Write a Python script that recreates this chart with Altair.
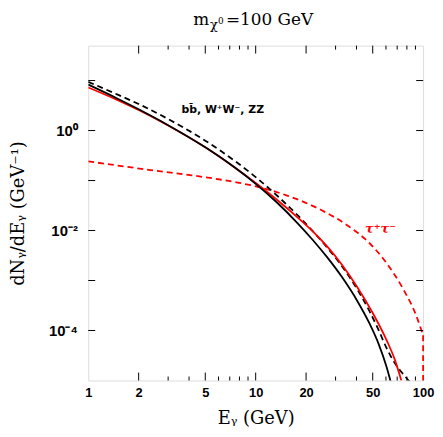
import altair as alt
import pandas as pd

W, H = 338, 338

# ---- data ----
E_bb = [1, 1.5, 2, 3, 5, 7.5, 10, 13.5, 17.7, 22, 26.7, 33, 40.2, 48, 54, 60.4, 64.7]
N_bb = [8.3, 4.33, 2.66, 1.28, 0.461, 0.1816, 0.0859, 0.0355, 0.01429, 6.4e-3, 2.93e-3,
        1.13e-3, 4.04e-4, 1.35e-4, 5.6e-5, 1.9e-5, 8.3e-6]

E_dash = [1, 1.5, 2, 3, 5, 7.5, 10, 13.5, 17.7, 22, 26.7, 33, 40.2, 48, 54, 60.4, 67.3, 77.2, 83]
N_dash = [9.4, 5.22, 3.39, 1.70, 0.628, 0.247, 0.117, 0.0491, 0.0206, 9.6e-3, 4.6e-3, 1.86e-3,
          6.9e-4, 2.38e-4, 1.05e-4, 4.5e-5, 2.3e-5, 1.26e-5, 9.5e-6]

E_red = [1, 1.5, 2, 3, 5, 7.5, 10, 13.5, 17.7, 22, 26.7, 33, 40.2, 50, 60.4, 67.5, 74.1]
N_red = [7.27, 4.05, 2.57, 1.26, 0.462, 0.182, 0.0891, 0.0403, 0.0186, 9.5e-3, 4.8e-3, 2.0e-3,
         7.6e-4, 2.24e-4, 6.5e-5, 2.7e-5, 1.0e-5]

E_tau = [1, 1.5, 2.35, 3.7, 5.5, 7.8, 11.3, 15.4, 24.3, 35, 48.1, 60.4, 75.9, 90.9, 97.3, 100]
N_tau = [0.242, 0.1995, 0.162, 0.1334, 0.111, 0.0912, 0.0692, 0.0501, 0.0263, 0.0129, 5.5e-3,
         2.24e-3, 6.8e-4, 2.0e-4, 1.05e-4, 8e-5]
tau_end = [100, 8e-5, 1e-5]   # vertical drop at E = m_chi

x_domain = [1, 100]
y_domain = [1e-5, 50]
x_label_values = [1, 2, 5, 10, 20, 50, 100]
x_major_ticks = [2, 5, 10, 20, 50]
x_minor_ticks = [3, 4, 6, 7, 8, 9, 30, 40, 60, 70, 80, 90]
y_ticks = [1e-4, 1e-3, 1e-2, 1e-1, 1, 10]
y_label_values = [1, 1e-2, 1e-4]
y_label_text = ["10⁰", "10⁻²", "10⁻⁴"]

label_bb = ["bb̄, W⁺W⁻, ZZ", 3.6, 2.6]
label_tau = ["τ⁺τ⁻", 55.7, 0.0107]

# ---- scales / axes ----
xscale = alt.Scale(type="log", domain=x_domain, nice=False)
yscale = alt.Scale(type="log", domain=y_domain, nice=False)

y_expr = " : ".join(
    f"abs(log(datum.value)/LN10 - ({i})) < 0.1 ? '{t}'"
    for i, t in zip([0, -2, -4], y_label_text)
) + " : ''"

xaxis = alt.Axis(values=x_label_values, format="d", ticks=False, domain=False, grid=False,
                 labelFont="Liberation Sans", labelFontWeight="bold", labelFontSize=13,
                 labelColor="black", labelPadding=6, labelFlush=False,
                 title="Eᵧ (GeV)", titleFont="DejaVu Serif", titleFontWeight="normal",
                 titleFontSize=18, titleColor="black", titleX=W / 2, titleY=38,
                 titleBaseline="middle", titleAlign="center")
yaxis = alt.Axis(values=y_label_values, labelExpr=y_expr, ticks=False, domain=False, grid=False,
                 labelFont="Liberation Sans", labelFontWeight="bold", labelFontSize=15,
                 labelColor="black", labelPadding=11,
                 title="dNᵧ/dEᵧ (GeV⁻¹)", titleFont="DejaVu Serif", titleFontWeight="normal",
                 titleFontSize=18, titleColor="black", titleAngle=-90, titleX=-70, titleY=H / 2,
                 titleBaseline="middle", titleAlign="center")


def line(E, N, color, dash=None):
    df = pd.DataFrame({"E": E, "N": N})
    kw = dict(color=color, strokeWidth=1.8, interpolate="monotone", clip=True)
    if dash:
        kw["strokeDash"] = dash
    return alt.Chart(df).mark_line(**kw).encode(
        x=alt.X("E:Q", scale=xscale, axis=xaxis),
        y=alt.Y("N:Q", scale=yscale, axis=yaxis),
    )


l_tau = line(E_tau, N_tau, "#ff0000", [6, 4])
l_tau_end = alt.Chart(pd.DataFrame({"E": [tau_end[0]], "N": [tau_end[1]], "N2": [tau_end[2]]})).mark_rule(
    color="#ff0000", strokeWidth=1.8, strokeDash=[6, 4]).encode(
    x=alt.X("E:Q", scale=xscale, axis=xaxis), y=alt.Y("N:Q", scale=yscale, axis=yaxis), y2="N2:Q")
l_dash = line(E_dash, N_dash, "black", [6, 4])
l_red = line(E_red, N_red, "#ff0000")
l_bb = line(E_bb, N_bb, "black")


# inward ticks on all four sides
def xticks(vals, length):
    df = pd.DataFrame({"E": vals})
    bot = alt.Chart(df).mark_rule(color="black", strokeWidth=1).encode(
        x=alt.X("E:Q", scale=xscale, axis=xaxis), y=alt.value(H), y2=alt.value(H - length))
    top = alt.Chart(df).mark_rule(color="black", strokeWidth=1).encode(
        x=alt.X("E:Q", scale=xscale, axis=xaxis), y=alt.value(0), y2=alt.value(length))
    return [bot, top]


def yticks(vals, length):
    df = pd.DataFrame({"N": vals})
    left = alt.Chart(df).mark_rule(color="black", strokeWidth=1).encode(
        y=alt.Y("N:Q", scale=yscale, axis=yaxis), x=alt.value(0), x2=alt.value(length))
    right = alt.Chart(df).mark_rule(color="black", strokeWidth=1).encode(
        y=alt.Y("N:Q", scale=yscale, axis=yaxis), x=alt.value(W), x2=alt.value(W - length))
    return [left, right]


ticks = xticks(x_major_ticks, 8) + xticks(x_minor_ticks, 4) + yticks(y_ticks, 7)

t_bb = alt.Chart(pd.DataFrame({"t": [label_bb[0]], "E": [label_bb[1]], "N": [label_bb[2]]})).mark_text(
    align="left", baseline="middle", font="DejaVu Sans", fontWeight="bold", fontSize=11, color="black").encode(
    x=alt.X("E:Q", scale=xscale, axis=xaxis), y=alt.Y("N:Q", scale=yscale, axis=yaxis), text="t:N")
t_tau = alt.Chart(pd.DataFrame({"t": [label_tau[0]], "E": [label_tau[1]], "N": [label_tau[2]]})).mark_text(
    align="center", baseline="middle", font="DejaVu Serif", fontWeight="bold", fontStyle="italic",
    fontSize=13, color="#ff0000").encode(
    x=alt.X("E:Q", scale=xscale, axis=xaxis), y=alt.Y("N:Q", scale=yscale, axis=yaxis), text="t:N")


# title m_{chi^0} = 100 GeV
def title_piece(txt, x, y, size):
    return alt.Chart(pd.DataFrame({"t": [txt]})).mark_text(
        align="left", baseline="alphabetic", font="DejaVu Serif", fontSize=size, color="black").encode(
        x=alt.value(x), y=alt.value(y), text="t:N")


title_layers = [
    title_piece("m", 106, -21, 17),
    title_piece("χ", 123, -17, 13),
    title_piece("0", 131, -22, 9),
    title_piece("=100  GeV", 139, -21, 17),
]

chart = alt.layer(l_tau, l_tau_end, l_dash, l_red, l_bb, *ticks, t_bb, t_tau, *title_layers).properties(
    width=W, height=H,
    autosize=alt.AutoSizeParams(type="none"),
    padding={"left": 81, "top": 36, "right": 12, "bottom": 47},
).configure_view(stroke="black", strokeWidth=1.3).configure(background="white")

chart.save("out.html", embed_options={"renderer": "svg", "actions": False})
